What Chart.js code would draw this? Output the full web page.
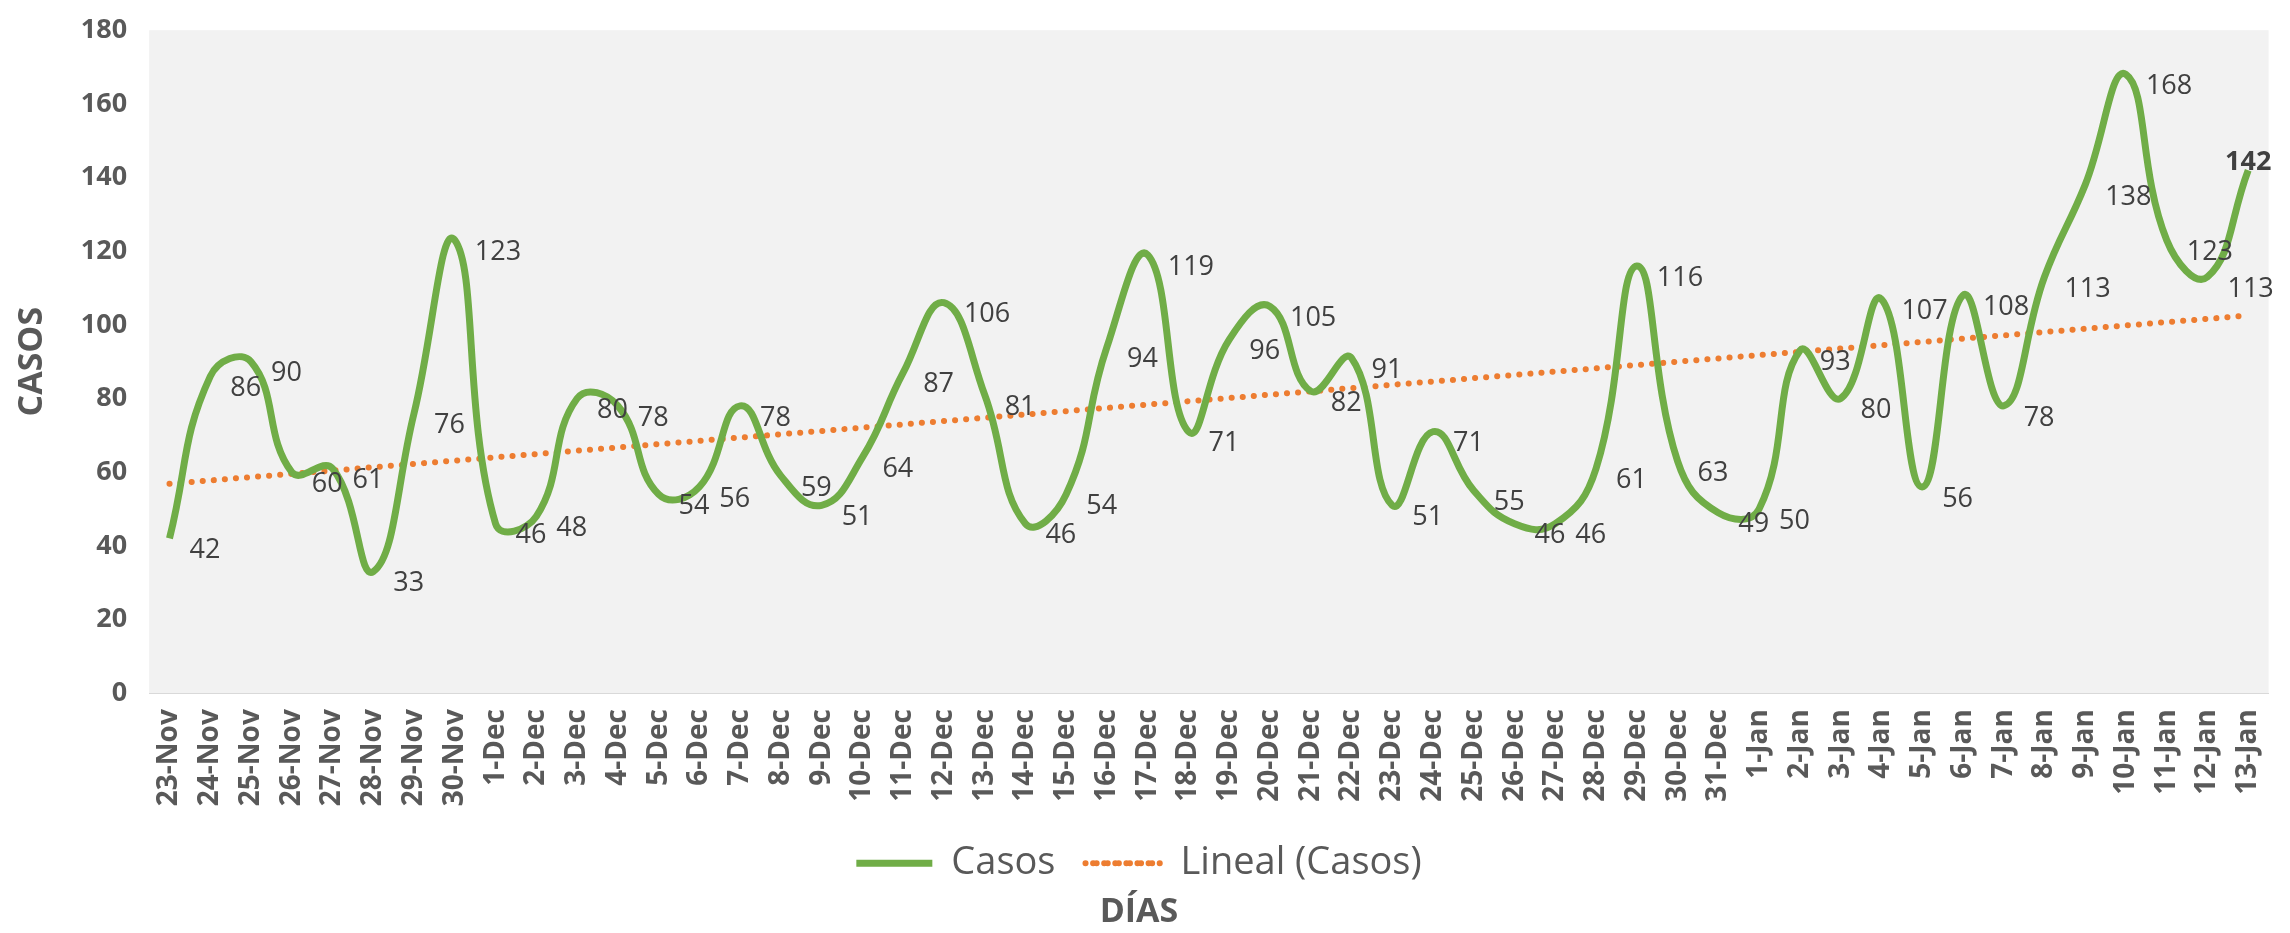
<!DOCTYPE html><html><head><meta charset="utf-8">
<script src="https://cdn.jsdelivr.net/npm/chart.js@4"></script>
<style>html,body{margin:0;background:#fff}#w{width:2290px;height:933px}</style></head><body>
<div id="w"><canvas id="c"></canvas></div>
<script>
const categories=["23-Nov","24-Nov","25-Nov","26-Nov","27-Nov","28-Nov","29-Nov","30-Nov","1-Dec","2-Dec","3-Dec","4-Dec","5-Dec","6-Dec","7-Dec","8-Dec","9-Dec","10-Dec","11-Dec","12-Dec","13-Dec","14-Dec","15-Dec","16-Dec","17-Dec","18-Dec","19-Dec","20-Dec","21-Dec","22-Dec","23-Dec","24-Dec","25-Dec","26-Dec","27-Dec","28-Dec","29-Dec","30-Dec","31-Dec","1-Jan","2-Jan","3-Jan","4-Jan","5-Jan","6-Jan","7-Jan","8-Jan","9-Jan","10-Jan","11-Jan","12-Jan","13-Jan"];
const casos=[42,86,90,60,61,33,76,123,46,48,80,78,54,56,78,59,51,64,87,106,81,46,54,94,119,71,96,105,82,91,51,71,55,46,46,61,116,63,49,50,93,80,107,56,108,78,113,138,168,123,113,142];
const yTicks=[0,20,40,60,80,100,120,140,160,180];
const n=casos.length;let sx=0,sy=0,sxy=0,sxx=0;
casos.forEach((v,i)=>{sx+=i;sy+=v;sxy+=i*v;sxx+=i*i;});
const b=(n*sxy-sx*sy)/(n*sxx-sx*sx),a=(sy-b*sx)/n;
const trend=casos.map((v,i)=>a+b*i);
const bg={id:'bg',beforeDraw(c){const {ctx,chartArea:r}=c;ctx.save();ctx.fillStyle='#f2f2f2';ctx.fillRect(r.left,r.top,r.right-r.left,r.bottom-r.top);ctx.restore();}};
const lbl={id:'lbl',afterDatasetsDraw(c){const ctx=c.ctx;const m=c.getDatasetMeta(0);ctx.save();ctx.textBaseline='middle';ctx.fillStyle='#404040';
m.data.forEach((p,i)=>{const last=i===n-1;ctx.font=(last?'bold ':'')+'27px "Open Sans"';ctx.textAlign=last?'center':'left';
ctx.fillText(casos[i],last?p.x:p.x+20,last?p.y-8:p.y+12);});ctx.restore();}};
new Chart(document.getElementById('c'),{type:'line',data:{labels:categories,datasets:[
{label:'Casos',data:casos,borderColor:'#70ad47',borderWidth:7,tension:0.45,pointRadius:0,fill:false},
{label:'Lineal (Casos)',data:trend,borderColor:'#ed7d31',borderWidth:6,borderDash:[0.1,11],borderCapStyle:'round',pointRadius:0,fill:false}]},
options:{responsive:true,maintainAspectRatio:false,animation:false,layout:{padding:{right:20,top:10,left:8}},
plugins:{tooltip:{enabled:false},legend:{position:'bottom',labels:{color:'#595959',font:{size:38,family:'Open Sans'},boxWidth:76,boxHeight:0,useBorderRadius:false,padding:30}},
title:{display:true,position:'bottom',text:'DÍAS',color:'#595959',font:{size:34,weight:'bold',family:'Open Sans'},padding:{top:0,bottom:0}}},
scales:{x:{offset:true,grid:{display:false},border:{color:'#d9d9d9'},ticks:{color:'#595959',font:{size:28,weight:'bold',family:'Open Sans'},padding:8,maxRotation:90,minRotation:90,autoSkip:false}},
y:{min:0,max:180,afterBuildTicks(s){s.ticks=yTicks.map(v=>({value:v}));},grid:{display:false},border:{display:false},ticks:{color:'#595959',font:{size:27,weight:'bold',family:'Open Sans'},padding:14},
title:{display:true,text:'CASOS',color:'#595959',font:{size:34,weight:'bold',family:'Open Sans'},padding:{bottom:14}}}}},plugins:[bg,lbl]});
</script></body></html>
